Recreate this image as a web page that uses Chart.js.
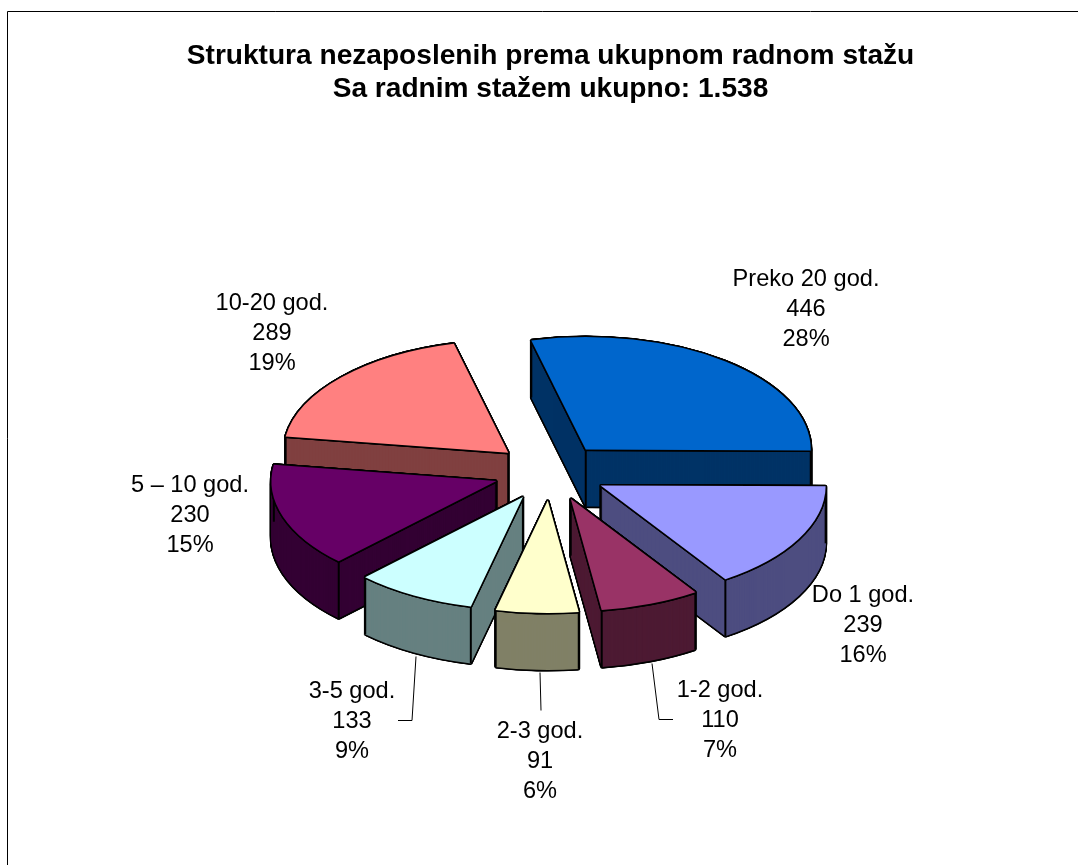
<!DOCTYPE html>
<html>
<head>
<meta charset="utf-8">
<style>html,body{margin:0;padding:0;background:#fff}canvas{display:block}</style>
<script src="https://cdn.jsdelivr.net/npm/chart.js@4"></script>
</head>
<body>
<div style="width:1078px;height:865px;position:relative"><canvas id="c" width="1078" height="865"></canvas></div>
<script>
const categories = ['Preko 20 god.', 'Do 1 god.', '1-2 god.', '2-3 god.', '3-5 god.', '5 – 10 god.', '10-20 god.'];
const values = [446, 239, 110, 91, 133, 230, 289];
const percents = ['28%', '16%', '7%', '6%', '9%', '15%', '19%'];
const topColors = ['#0066CC', '#9999FF', '#993366', '#FFFFCC', '#CCFFFF', '#660066', '#FF8080'];
const wallColors = ['#003366', '#4D4D80', '#4D1A33', '#808066', '#668080', '#330033', '#804040'];
const titleLines = ['Struktura nezaposlenih prema ukupnom radnom stažu', 'Sa radnim stažem ukupno: 1.538'];

// presentation settings
const FONT = '"Liberation Sans", Arial, sans-serif';
const SQUASH = 0.5, DEPTH = 57, EXPLODE = 57, RADIUS = 225, OUTLINE = 1.6;
const paintOrder = [6, 0, 5, 1, 4, 2, 3];
const labelCenters = [[806, 279], [863, 595], [720, 690], [540, 731], [352, 691], [190, 485], [272, 303]];
const LABEL_LEADING = 30.3;
const leaders = [
  [[652, 663], [659, 719], [673, 719]],
  [[540, 672], [541, 710]],
  [[416, 656], [412, 720], [398, 720]]
];
const ring = [];
for (let i = 0; i < 12; i++) ring.push([OUTLINE * Math.cos(i * Math.PI / 6), OUTLINE * Math.sin(i * Math.PI / 6)]);

function drawArcAt(ctx, arc, color, dx, dy) {
  const mid = (arc.startAngle + arc.endAngle) / 2;
  const proxy = Object.create(arc);
  proxy.options = Object.assign({}, arc.options, {backgroundColor: color, borderWidth: 0, offset: 0, spacing: 0});
  ctx.save();
  ctx.translate(arc.x + EXPLODE * Math.cos(mid) + dx, arc.y + SQUASH * EXPLODE * Math.sin(mid) + dy);
  ctx.scale(1, SQUASH);
  ctx.translate(-arc.x, -arc.y);
  proxy.draw(ctx);
  ctx.restore();
}

const pie3d = {
  id: 'pie3d',
  beforeDatasetsDraw(chart) {
    const ctx = chart.ctx;
    const arcs = chart.getDatasetMeta(0).data;
    paintOrder.forEach(i => {
      const arc = arcs[i];
      // silhouette outline of the whole extruded slice
      for (let d = 0; d <= DEPTH; d += 1) ring.forEach(o => drawArcAt(ctx, arc, '#000', o[0], o[1] + d));
      // walls
      for (let d = DEPTH; d >= 0; d -= 1) drawArcAt(ctx, arc, wallColors[i], 0, d);
      // vertical edges
      const mid = (arc.startAngle + arc.endAngle) / 2;
      const ox = arc.x + EXPLODE * Math.cos(mid), oy = arc.y + SQUASH * EXPLODE * Math.sin(mid);
      const corners = [[ox, oy],
        [ox + RADIUS * Math.cos(arc.startAngle), oy + SQUASH * RADIUS * Math.sin(arc.startAngle)],
        [ox + RADIUS * Math.cos(arc.endAngle), oy + SQUASH * RADIUS * Math.sin(arc.endAngle)]];
      ctx.save();
      ctx.strokeStyle = '#000';
      ctx.lineWidth = 2;
      corners.forEach(p => {
        ctx.beginPath();
        ctx.moveTo(p[0], p[1]);
        ctx.lineTo(p[0], p[1] + DEPTH);
        ctx.stroke();
      });
      ctx.restore();
      // top face
      ring.forEach(o => drawArcAt(ctx, arc, '#000', o[0], o[1]));
      drawArcAt(ctx, arc, topColors[i], 0, 0);
    });
    return false;
  },
  afterDraw(chart) {
    const ctx = chart.ctx;
    ctx.save();
    // frame
    ctx.strokeStyle = '#000';
    ctx.lineWidth = 1;
    ctx.beginPath();
    ctx.moveTo(7.5, 865);
    ctx.lineTo(7.5, 11.5);
    ctx.lineTo(1078, 11.5);
    ctx.stroke();
    // leaders
    leaders.forEach(pts => {
      ctx.beginPath();
      pts.forEach((p, j) => j ? ctx.lineTo(p[0], p[1] + .5) : ctx.moveTo(p[0], p[1] + .5));
      ctx.stroke();
    });
    // data labels
    ctx.fillStyle = '#000';
    ctx.font = '23.6px ' + FONT;
    ctx.textAlign = 'center';
    ctx.textBaseline = 'middle';
    categories.forEach((name, i) => {
      const [x, y] = labelCenters[i];
      [name, String(values[i]), percents[i]].forEach((t, j) => ctx.fillText(t, x, y + j * LABEL_LEADING));
    });
    ctx.restore();
  }
};

new Chart(document.getElementById('c'), {
  type: 'pie',
  data: {
    labels: categories,
    datasets: [{data: values, backgroundColor: topColors, borderWidth: 0}]
  },
  options: {
    responsive: false,
    animation: false,
    rotation: -14,
    radius: RADIUS,
    layout: {padding: {left: 23, top: 0, right: 0, bottom: 27}},
    events: [],
    plugins: {
      legend: {display: false},
      tooltip: {enabled: false},
      title: {
        display: true,
        text: titleLines,
        color: '#000',
        font: {family: FONT, size: 28.1, weight: 'bold', lineHeight: 33 / 28.1},
        padding: {top: 40, bottom: 0}
      }
    }
  },
  plugins: [pie3d]
});
</script>
</body>
</html>
